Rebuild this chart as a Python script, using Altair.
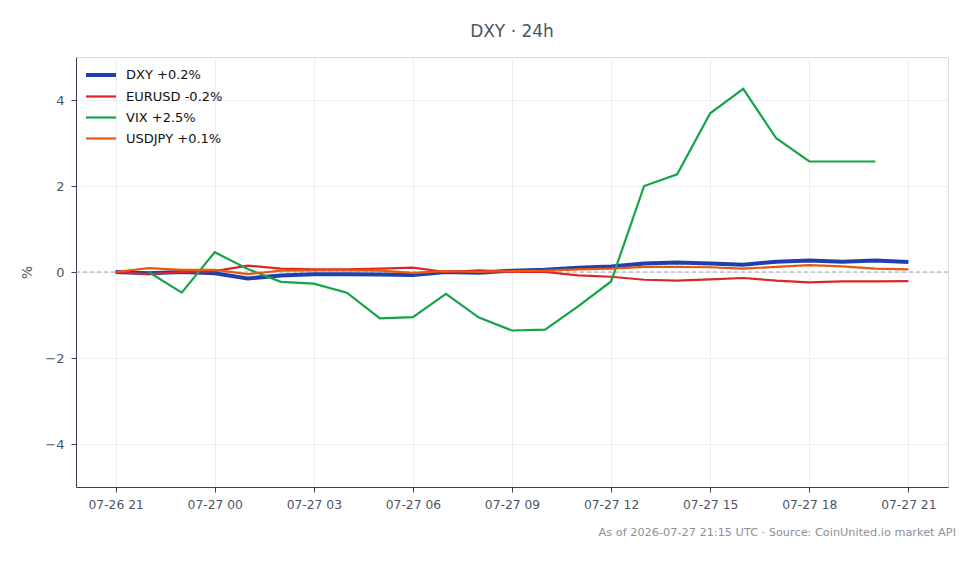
import altair as alt
import pandas as pd

times = [f"2026-07-26T{h:02d}:00" for h in (21, 22, 23)] + [f"2026-07-27T{h:02d}:00" for h in range(0, 22)]

dxy = [0.0, -0.03, 0.0, -0.03, -0.15, -0.08, -0.05, -0.05, -0.06, -0.07, 0.0, -0.02, 0.03,
       0.05, 0.1, 0.13, 0.2, 0.22, 0.2, 0.17, 0.24, 0.27, 0.24, 0.27, 0.23]
eurusd = [0.0, -0.05, 0.0, 0.02, 0.15, 0.08, 0.06, 0.06, 0.08, 0.1, 0.0, 0.04, 0.0,
          0.0, -0.08, -0.11, -0.18, -0.2, -0.17, -0.14, -0.2, -0.24, -0.22, -0.22, -0.21]
vix = [None, 0.0, -0.48, 0.46, 0.07, -0.23, -0.27, -0.48, -1.08, -1.05, -0.51, -1.06, -1.36,
       -1.34, -0.8, -0.22, 2.0, 2.27, 3.69, 4.26, 3.11, 2.57, 2.57, 2.57, None]
usdjpy = [0.0, 0.09, 0.05, 0.05, -0.05, 0.03, 0.04, 0.04, 0.03, -0.02, 0.02, 0.0, 0.02,
          0.03, 0.06, 0.08, 0.12, 0.12, 0.11, 0.08, 0.12, 0.16, 0.13, 0.08, 0.06]

series_names = ["DXY +0.2%", "EURUSD -0.2%", "VIX +2.5%", "USDJPY +0.1%"]
series_colors = ["#1e40af", "#dc2626", "#16a34a", "#ea580c"]
series_widths = [4, 2.2, 2.2, 2.2]
tick_times = [f"2026-07-26T21:00"] + [f"2026-07-27T{h:02d}:00" for h in range(0, 22, 3)]

rows = []
for name, vals in zip(series_names, [dxy, eurusd, vix, usdjpy]):
    for t, v in zip(times, vals):
        if v is not None:
            rows.append({"time": t, "series": name, "value": v})
df = pd.DataFrame(rows)

def dt(s):
    d, h = s.split("T")
    y, m, dd = d.split("-")
    hh, mm = h.split(":")
    return alt.DateTime(year=int(y), month=int(m), date=int(dd), hours=int(hh), minutes=int(mm))

text_color = "#4b5563"
x_scale = alt.Scale(domain=[dt("2026-07-26T19:48"), dt("2026-07-27T22:12")])

legend_opts = dict(title=None, orient="none", legendX=13, legendY=6,
                   symbolType="M-1.5,0H1.5", symbolSize=400,
                   labelFont="DejaVu Sans", labelFontSize=13,
                   labelColor="#111111", rowPadding=2, labelOffset=13, padding=0)

lines = alt.Chart(df).mark_line().encode(
    x=alt.X("time:T", scale=x_scale,
            axis=alt.Axis(values=[dt(t) for t in tick_times], format="%m-%d %H", title=None,
                          labelFont="DejaVu Sans", labelFontSize=12.3, labelColor=text_color,
                          labelPadding=6, grid=True, gridColor="#eceef1", domainColor="#374151",
                          tickColor="#374151", tickSize=5, labelFlush=False)),
    y=alt.Y("value:Q", scale=alt.Scale(domain=[-5, 5], nice=False),
            axis=alt.Axis(values=[-4, -2, 0, 2, 4], title="%", titleFont="DejaVu Sans",
                          titleFontSize=14, titleFontWeight="normal", titleColor=text_color,
                          titlePadding=10, labelFont="DejaVu Sans", labelFontSize=13,
                          labelColor=text_color, labelPadding=7, grid=True, gridColor="#eceef1",
                          domainColor="#374151", tickColor="#374151", tickSize=5)),
    color=alt.Color("series:N", scale=alt.Scale(domain=series_names, range=series_colors),
                    legend=alt.Legend(**legend_opts)),
    strokeWidth=alt.StrokeWidth("series:N",
                                scale=alt.Scale(type="ordinal", domain=series_names, range=series_widths),
                                legend=alt.Legend(**legend_opts)),
    detail="series:N",
)

zero = alt.Chart(pd.DataFrame({"y": [0]})).mark_rule(
    color="#9ca3af", strokeDash=[4, 3], strokeWidth=1
).encode(y="y:Q")

footer = alt.Chart(pd.DataFrame({"t": ["As of 2026-07-27 21:15 UTC · Source: CoinUnited.io market API"]})).mark_text(
    align="right", baseline="middle", font="DejaVu Sans", fontSize=11.3, color="#8a8f98"
).encode(x=alt.value(880), y=alt.value(46 + 430), text="t:N")

chart = alt.layer(zero, lines, footer).properties(
    width=872, height=430,
    title=alt.Title("DXY · 24h", font="DejaVu Sans", fontSize=17, fontWeight="normal",
                    color=text_color, anchor="middle", offset=16),
    autosize=alt.AutoSizeParams(type="none"),
    padding={"left": 76, "top": 57, "right": 32, "bottom": 77},
).configure_view(stroke=None).configure(background="white")

chart.save("out.html", embed_options={"renderer": "svg", "actions": False})
